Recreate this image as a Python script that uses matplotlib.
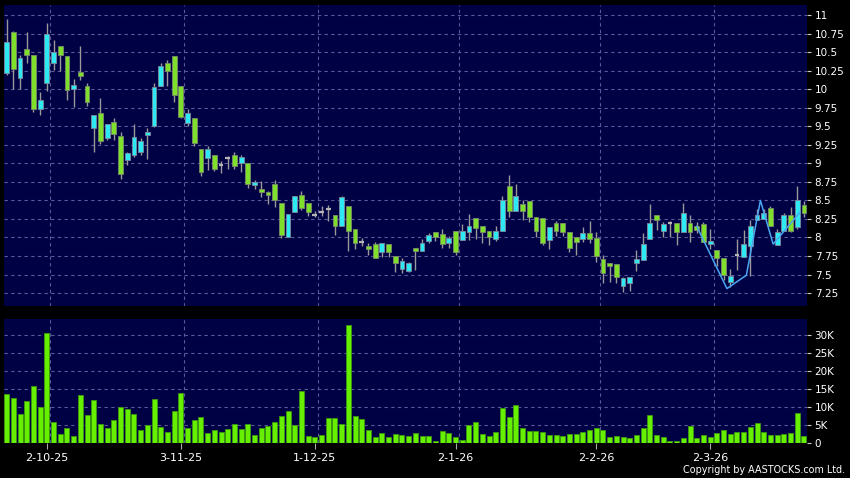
""" Candlestick chart with volume panel, AASTOCKS style

Run as:

    python3 plot.py
"""

import numpy as np
import matplotlib
matplotlib.use('Agg')
import matplotlib.pyplot as plt
from matplotlib.ticker import FixedLocator, FuncFormatter

# daily prices, one entry per trading day
opens = [10.22, 10.78, 10.16, 10.55, 10.47, 9.74, 10.09, 10.36, 10.59, 10.45,
         10.01, 10.24, 10.05, 9.48, 9.68, 9.34, 9.56, 9.37, 9.05, 9.11,
         9.16, 9.39, 9.50, 10.05, 10.36, 10.45, 10.05, 9.55, 9.61, 9.19,
         9.07, 9.12, 8.98, 9.07, 9.12, 9.01, 9.01, 8.71, 8.66, 8.62,
         8.72, 8.46, 8.01, 8.35, 8.58, 8.47, 8.30, 8.34, 8.39, 8.30,
         8.16, 8.42, 8.12, 7.94, 7.88, 7.91, 7.80, 7.91, 7.75, 7.57,
         7.55, 7.86, 7.82, 7.95, 8.07, 8.05, 7.93, 8.09, 7.97, 8.07,
         8.26, 8.16, 8.09, 7.98, 8.09, 8.70, 8.36, 8.45, 8.49, 8.27,
         8.26, 7.96, 8.20, 8.19, 8.07, 8.00, 7.98, 8.06, 7.99, 7.71,
         7.65, 7.64, 7.35, 7.39, 7.66, 7.70, 7.98, 8.30, 8.09, 8.19,
         8.20, 8.07, 8.20, 8.16, 8.18, 7.91, 7.83, 7.72, 7.40, 7.76,
         7.73, 7.88, 8.23, 8.25, 8.40, 7.90, 8.09, 8.30, 8.14, 8.44]
highs = [10.95, 10.79, 10.47, 10.78, 10.47, 9.97, 10.90, 10.66, 10.59, 10.45,
         10.14, 10.58, 10.09, 9.66, 9.88, 9.53, 9.61, 9.43, 9.16, 9.53,
         9.35, 9.48, 10.09, 10.35, 10.40, 10.45, 10.05, 9.73, 9.61, 9.19,
         9.24, 9.12, 9.03, 9.10, 9.15, 9.12, 9.01, 8.77, 8.76, 8.63,
         8.78, 8.46, 8.32, 8.56, 8.63, 8.47, 8.36, 8.42, 8.44, 8.30,
         8.56, 8.42, 8.12, 7.99, 7.92, 7.94, 7.92, 7.91, 7.75, 7.72,
         7.67, 7.86, 7.98, 8.06, 8.07, 8.12, 8.02, 8.09, 8.18, 8.32,
         8.26, 8.16, 8.09, 8.15, 8.56, 8.85, 8.72, 8.50, 8.49, 8.27,
         8.26, 8.14, 8.22, 8.19, 8.07, 8.00, 8.14, 8.22, 8.07, 7.76,
         7.65, 7.64, 7.47, 7.46, 7.83, 8.06, 8.45, 8.31, 8.21, 8.22,
         8.20, 8.46, 8.30, 8.21, 8.21, 8.12, 7.83, 7.72, 7.57, 7.98,
         8.10, 8.24, 8.38, 8.39, 8.43, 8.12, 8.33, 8.41, 8.69, 8.49]
lows = [10.19, 10.00, 10.01, 10.35, 9.70, 9.65, 9.98, 10.26, 10.25, 9.85,
        9.76, 10.12, 9.77, 9.15, 9.26, 9.31, 9.32, 8.79, 8.98, 9.08,
        9.12, 9.06, 9.49, 10.05, 10.04, 9.83, 9.62, 9.50, 9.24, 8.83,
        8.91, 8.90, 8.87, 8.92, 8.93, 8.89, 8.67, 8.65, 8.55, 8.45,
        8.41, 7.99, 8.00, 8.35, 8.37, 8.29, 8.27, 8.29, 8.22, 8.03,
        8.16, 7.82, 7.85, 7.88, 7.76, 7.72, 7.74, 7.73, 7.54, 7.52,
        7.53, 7.56, 7.82, 7.92, 7.95, 7.86, 7.86, 7.77, 7.97, 7.97,
        7.98, 7.93, 7.90, 7.95, 8.09, 8.28, 8.36, 8.23, 8.21, 8.01,
        7.90, 7.84, 8.02, 8.02, 7.80, 7.76, 7.94, 7.92, 7.67, 7.38,
        7.40, 7.38, 7.26, 7.28, 7.55, 7.70, 7.98, 8.10, 8.01, 8.00,
        7.90, 8.07, 7.94, 8.06, 7.94, 7.85, 7.61, 7.43, 7.33, 7.56,
        7.73, 7.48, 8.23, 8.25, 8.16, 7.90, 8.09, 8.07, 8.11, 8.28]
closes = [10.64, 10.28, 10.43, 10.47, 9.73, 9.86, 10.75, 10.51, 10.47, 9.99,
          10.06, 10.18, 9.83, 9.66, 9.30, 9.53, 9.40, 8.86, 9.14, 9.36,
          9.30, 9.42, 10.03, 10.32, 10.25, 9.93, 9.63, 9.68, 9.27, 8.89,
          9.19, 8.93, 8.98, 9.07, 8.97, 9.09, 8.72, 8.75, 8.62, 8.57,
          8.50, 8.04, 8.32, 8.56, 8.40, 8.34, 8.30, 8.34, 8.39, 8.16,
          8.54, 8.09, 7.92, 7.94, 7.84, 7.72, 7.92, 7.80, 7.66, 7.68,
          7.65, 7.82, 7.93, 8.03, 8.00, 7.91, 7.99, 7.80, 8.09, 8.15,
          8.13, 8.07, 8.00, 8.09, 8.51, 8.36, 8.56, 8.36, 8.27, 8.09,
          7.92, 8.14, 8.09, 8.08, 7.86, 7.94, 8.06, 7.98, 7.75, 7.52,
          7.61, 7.46, 7.45, 7.46, 7.71, 7.91, 8.20, 8.23, 8.18, 8.19,
          8.07, 8.33, 8.07, 8.10, 7.94, 7.95, 7.72, 7.49, 7.48, 7.76,
          7.91, 8.16, 8.30, 8.33, 8.16, 8.07, 8.30, 8.09, 8.50, 8.33]
# volume in thousands of shares
volumes_k = [13.6, 12.5, 8.1, 11.9, 16.0, 10.1, 30.7, 6.0, 2.7, 4.2,
             2.1, 13.3, 7.9, 12.0, 5.5, 4.3, 6.6, 10.0, 9.6, 8.3,
             3.7, 5.1, 12.4, 4.5, 3.1, 9.0, 14.0, 4.4, 6.6, 7.4,
             3.0, 3.7, 3.3, 4.0, 5.5, 4.1, 5.5, 2.3, 4.4, 4.9,
             6.0, 7.5, 9.0, 5.2, 14.5, 2.2, 1.9, 2.4, 7.0, 7.1,
             5.3, 32.9, 7.7, 6.8, 3.6, 1.9, 2.9, 1.8, 2.5, 2.3,
             2.0, 2.9, 2.0, 2.0, 0.8, 3.5, 3.0, 1.9, 0.9, 5.1,
             6.0, 2.5, 2.1, 3.1, 9.7, 7.4, 10.6, 4.3, 3.4, 3.5,
             3.1, 2.4, 2.3, 2.0, 2.7, 2.5, 3.2, 3.6, 4.2, 3.6,
             1.7, 2.2, 1.8, 1.6, 2.3, 4.3, 7.8, 2.4, 1.8, 0.8,
             0.7, 1.4, 4.8, 1.6, 2.3, 1.8, 2.9, 3.8, 2.5, 3.1,
             3.3, 4.7, 5.8, 3.3, 2.3, 2.4, 2.7, 2.8, 8.5, 2.2]

# first trading day of each month, as a bar index, and its label
month_starts = [7, 27, 47, 68, 89, 106]
month_labels = ['2-10-25', '3-11-25', '1-12-25', '2-1-26', '2-2-26', '2-3-26']

# pattern line drawn over the last part of the chart
pattern_x = [103, 107.5, 110.4, 112.5, 114.4, 118.4]
pattern_y = [8.15, 7.31, 7.49, 8.50, 7.91, 8.34]

price_ticks = [7.25, 7.5, 7.75, 8, 8.25, 8.5, 8.75, 9, 9.25, 9.5, 9.75,
               10, 10.25, 10.5, 10.75, 11]
price_tick_labels = ['7.25', '7.5', '7.75', '8', '8.25', '8.5', '8.75', '9',
                     '9.25', '9.5', '9.75', '10', '10.25', '10.5', '10.75', '11']
volume_ticks = [0, 5000, 10000, 15000, 20000, 25000, 30000]

BG = '#000045'
GRID = '#5a5a96'
UP = '#2ee8f4'
DOWN = '#7ee02a'
DOJI = '#b4b4b4'
WICK = '#9a9a9a'


def style_panel(ax):
    ax.set_facecolor(BG)
    for s in ax.spines.values():
        s.set_visible(False)
    ax.yaxis.tick_right()
    ax.tick_params(axis='y', colors='#cccccc', labelcolor='white',
                   labelsize=7.5, length=3, width=0.8, pad=2.5)
    ax.set_xlim(-0.4, 119.45)
    # month separators
    for m in month_starts:
        ax.axvline(m - 0.5, color=GRID, lw=0.8, ls=(0, (3, 3)), zorder=1)


def main():
    fig = plt.figure(figsize=(8.5, 4.78), dpi=100)
    fig.patch.set_facecolor('black')

    ax = fig.add_axes([0.0047, 0.3598, 0.9447, 0.6297])
    axv = fig.add_axes([0.0047, 0.0722, 0.9447, 0.2605])

    o = np.array(opens)
    h = np.array(highs)
    lo = np.array(lows)
    c = np.array(closes)
    idx = np.arange(len(o))

    # ---- price panel
    style_panel(ax)
    ax.set_ylim(7.0745, 11.139)
    ax.yaxis.set_major_locator(FixedLocator(price_ticks))
    ax.set_yticklabels(price_tick_labels)
    ax.set_xticks([])
    for p in price_ticks:
        ax.axhline(p, color=GRID, lw=0.8, ls=(0, (3, 3)), zorder=1)

    ax.vlines(idx, lo, h, color=WICK, lw=1, zorder=2)
    up = c > o
    down = c < o
    doji = c == o
    ax.bar(idx[up], (c - o)[up], bottom=o[up], width=0.72, color=UP,
           edgecolor='#7a8a9a', linewidth=0.6, zorder=3)
    ax.bar(idx[down], (o - c)[down], bottom=c[down], width=0.72, color=DOWN,
           edgecolor='#7a8a6a', linewidth=0.6, zorder=3)
    ax.hlines(c[doji], idx[doji] - 0.36, idx[doji] + 0.36, color=DOJI,
              lw=1.6, zorder=3)

    ax.plot(pattern_x, pattern_y, color='#4aa6f0', lw=1.1, zorder=4)

    # ---- volume panel
    style_panel(axv)
    vol = np.array(volumes_k) * 1000
    axv.set_ylim(0, 34500)
    axv.yaxis.set_major_locator(FixedLocator(volume_ticks))
    axv.yaxis.set_major_formatter(
        FuncFormatter(lambda v, pos: '0' if v == 0 else '%dK' % (v / 1000)))
    for v in volume_ticks[1:]:
        axv.axhline(v, color=GRID, lw=0.8, ls=(0, (3, 3)), zorder=1)
    axv.bar(idx, vol, width=0.75, color='#66f000', edgecolor='#3c9a10',
            linewidth=0.6, zorder=3)

    # date ticks sit a little left of the month separators
    axv.set_xticks([m - 1.0 for m in month_starts])
    axv.set_xticklabels(month_labels)
    axv.tick_params(axis='x', colors='#aaaaaa', labelcolor='white',
                    labelsize=8, length=4, width=0.8, pad=3)

    fig.text(0.994, 0.006, 'Copyright by AASTOCKS.com Ltd.', color='white',
             fontsize=6.9, ha='right', va='bottom')

    fig.savefig('out.png', dpi=100, facecolor=fig.get_facecolor())


if __name__ == '__main__':
    main()
